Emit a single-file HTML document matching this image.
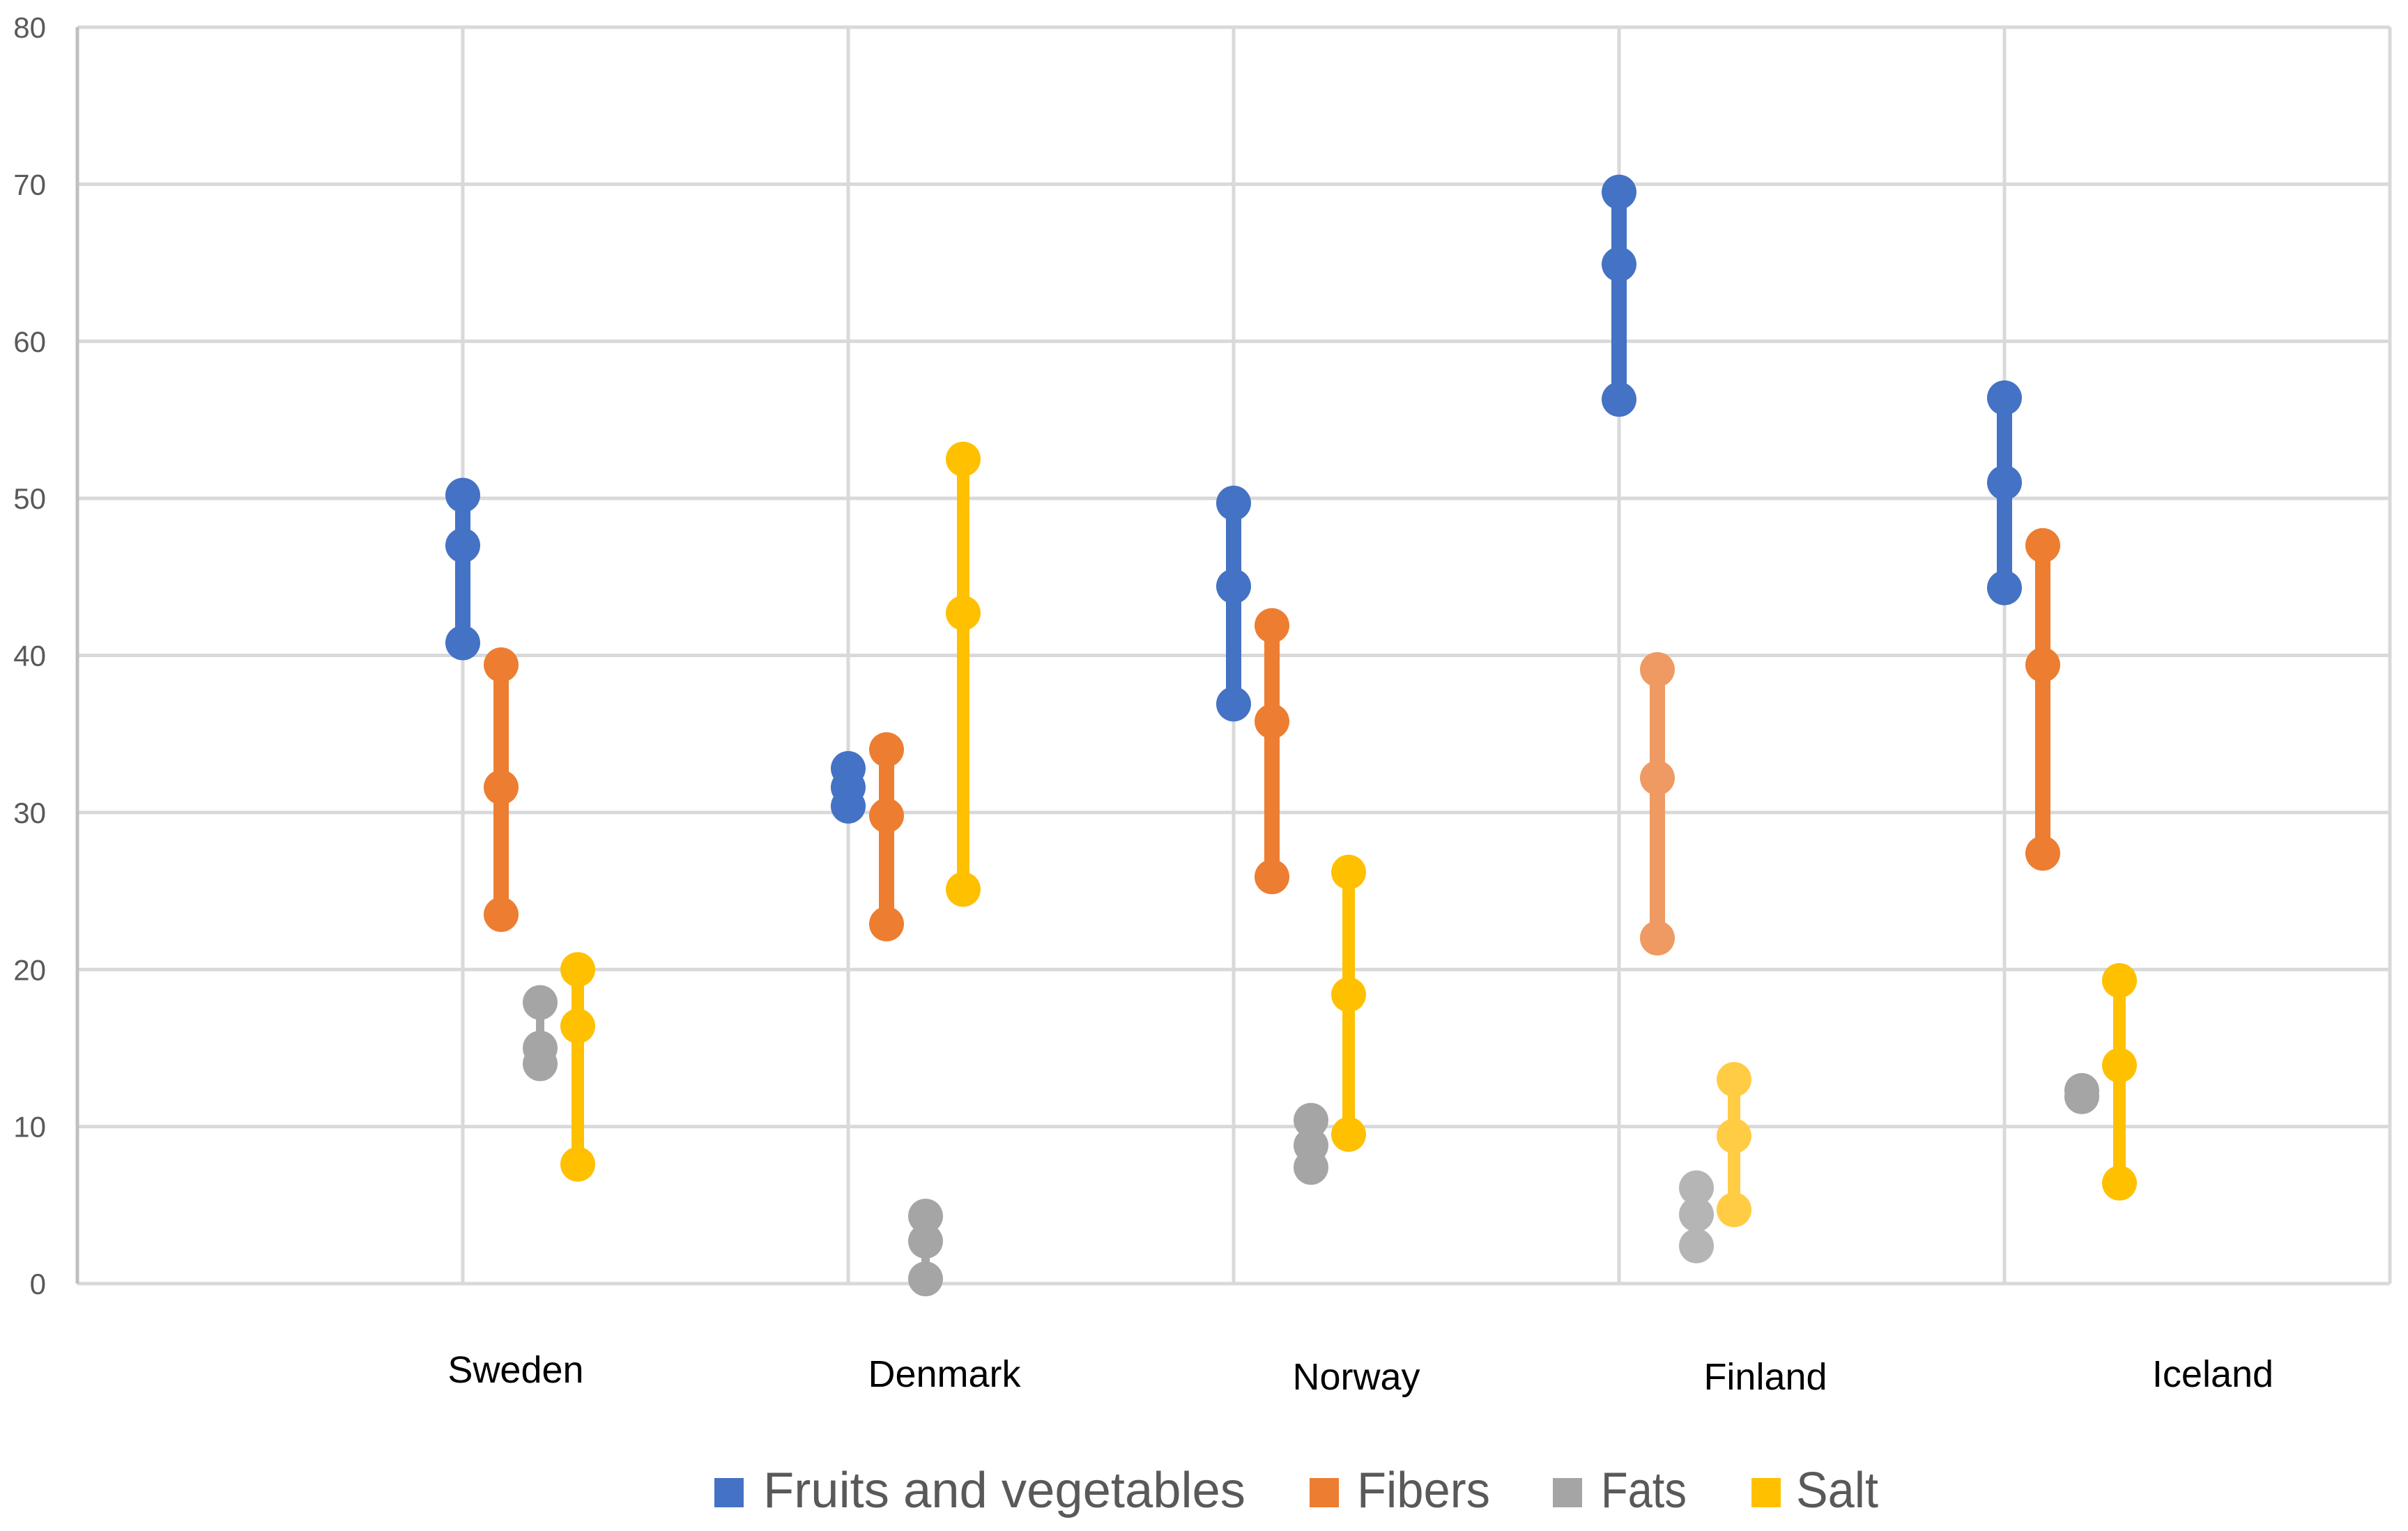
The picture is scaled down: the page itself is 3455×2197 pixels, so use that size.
<!DOCTYPE html>
<html><head><meta charset="utf-8"><style>
html,body{margin:0;padding:0;background:#fff;}
svg{display:block;font-family:"Liberation Sans",sans-serif;}
</style></head><body>
<svg id="chart" width="3455" height="2197" viewBox="0 0 3455 2197" xmlns="http://www.w3.org/2000/svg">
<g id="grid"></g>
<g id="axes"></g>
<g id="marks"></g>
<g id="legend"></g>
</svg>
<script>
const categories = ["Sweden","Denmark","Norway","Finland","Iceland"];
const seriesNames = ["Fruits and vegetables","Fibers","Fats","Salt"];
const fruits = [[50.2,47,40.8],[32.8,31.6,30.4],[49.7,44.4,36.9],[69.5,64.9,56.3],[56.4,51,44.3]];
const fibers = [[39.4,31.6,23.5],[34,29.8,22.9],[41.9,35.8,25.9],[39.1,32.2,22.0],[47,39.4,27.4]];
const fats = [[17.9,15,14],[4.3,2.7,0.3],[10.4,8.8,7.4],[6.1,4.4,2.4],[12.3,11.9]];
const salt = [[20,16.4,7.6],[52.5,42.7,25.1],[26.2,18.4,9.5],[13,9.4,4.7],[19.3,13.9,6.4]];
const yTicks = [0,10,20,30,40,50,60,70,80];

const NS="http://www.w3.org/2000/svg";
const L=111,Y0=1842,Y80=39;
const slot=553;
const R=L+slot*6;
const y=v=>Y0-(v/80)*(Y0-Y80);
const cx=i=>L+slot*(i+1);
function mk(tag,attrs,parent){const e=document.createElementNS(NS,tag);for(const k in attrs)e.setAttribute(k,attrs[k]);parent.appendChild(e);return e;}
const grid=document.getElementById('grid'),axes=document.getElementById('axes'),marks=document.getElementById('marks'),legend=document.getElementById('legend');

yTicks.forEach(t=>{
  const ln=mk('line',{x1:L,x2:R,y1:y(t),y2:y(t),stroke:'#d9d9d9','stroke-width':5},grid);
  
  
  const tx=mk('text',{x:66,y:y(t)+15,'text-anchor':'end','font-size':42,fill:'#595959'},axes);
  tx.textContent=t;
  
  
});
for(let i=0;i<categories.length;i++){
  const ln=mk('line',{x1:cx(i),x2:cx(i),y1:Y80,y2:Y0,stroke:'#d9d9d9','stroke-width':5},grid);
  
  
}
const rb=mk('line',{x1:R,x2:R,y1:Y80,y2:Y0,stroke:'#d9d9d9','stroke-width':5},grid);


const la=mk('line',{x1:L,x2:L,y1:Y80,y2:Y0,stroke:'#bfbfbf','stroke-width':5},axes);



const labelX=[740,1355,1946,2533,3175],labelY=[1966,1972,1976,1976,1972];
categories.forEach((c,i)=>{
  const tx=mk('text',{x:labelX[i],y:labelY[i]+18,'text-anchor':'middle','font-size':54,fill:'#000'},axes);
  tx.textContent=c;
  
  
});

const seriesData=[fruits,fibers,fats,salt];
const offsets=[0,55,111,165];
const colors=['#4472C4','#ED7D31','#A5A5A5','#FFC000'];
const finColors=['#4472C4','#EE9A62','#B5B5B5','#FFCC44'];
const widths=[22,22,12,18];
seriesData.forEach((ser,s)=>{
  ser.forEach((vals,i)=>{
    const col=(i===3)?finColors[s]:colors[s];
    const x=cx(i)+offsets[s];
    const g=mk('g',{},marks);
    
    
    const mx=Math.max(...vals),mn=Math.min(...vals);
    const ln=mk('line',{x1:x,x2:x,y1:y(mx),y2:y(mn),stroke:col,'stroke-width':widths[s]},g);
    
    
    vals.forEach(v=>{
      const c=mk('circle',{cx:x,cy:y(v),r:25,fill:col},g);
      
      
    });
  });
});

const legSq=[1025,1879,2228,2513],legTx=[1095,1947,2297,2577],legW=[692,191,123,118];
seriesNames.forEach((n,s)=>{
  const g=mk('g',{},legend);
  
  
  const r=mk('rect',{x:legSq[s],y:2121,width:42,height:42,fill:colors[s]},g);
  
  
  const t=mk('text',{x:legTx[s],y:2163,'font-size':72,fill:'#595959',textLength:legW[s],lengthAdjust:'spacingAndGlyphs'},g);
  t.textContent=n;
  
  
});
</script>
</body></html>
